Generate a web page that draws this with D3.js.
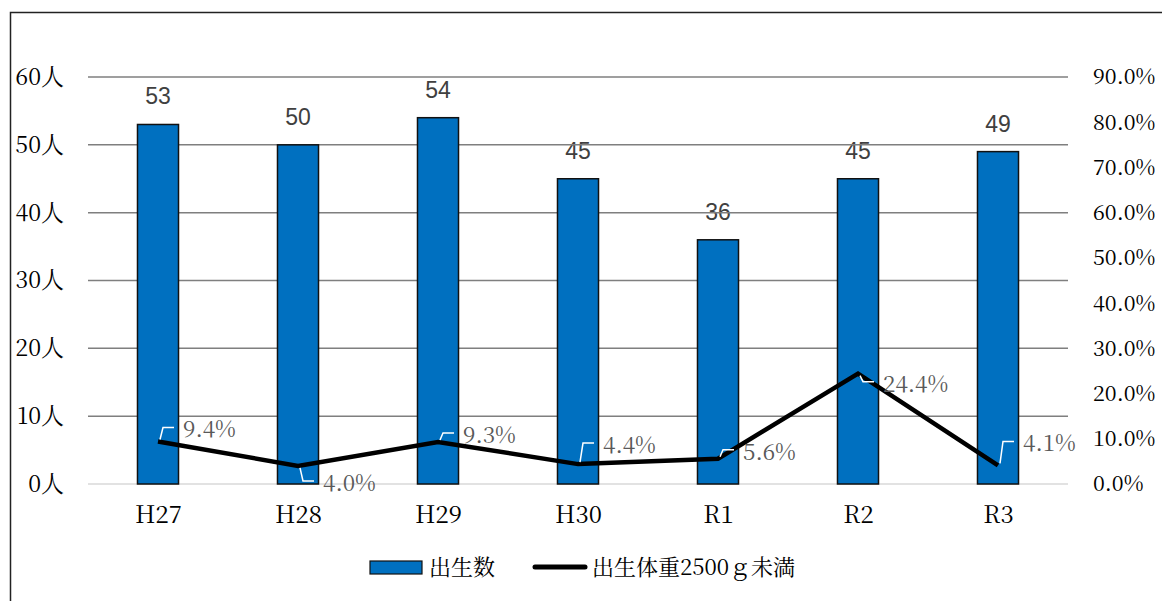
<!DOCTYPE html>
<html>
<head>
<meta charset="utf-8">
<script src="https://cdn.jsdelivr.net/npm/d3@7"></script>
<style>
  body { margin: 0; background: #fff; }
  svg { display: block; }
</style>
</head>
<body>
<script>
var width = 1162,
    height = 601;

// data
var categories = ['H27', 'H28', 'H29', 'H30', 'R1', 'R2', 'R3'];
var births = [53, 50, 54, 45, 36, 45, 49];
var lowWeightRate = [0.094, 0.040, 0.093, 0.044, 0.056, 0.244, 0.041];
var leftTicks = [0, 10, 20, 30, 40, 50, 60];
var rightTicks = [0, 0.1, 0.2, 0.3, 0.4, 0.5, 0.6, 0.7, 0.8, 0.9];
var barName = '出生数';
var lineName = '出生体重2500ｇ未満';

// label placement for line data labels (vertical offset, px)
var labelDy = [-12, 17, -7, -19, -7, 10, -22];

var serif = '"Noto Serif CJK JP","Liberation Serif",serif';
var sans = '"Liberation Sans",Arial,sans-serif';

var plot = {left: 88, right: 1068, top: 77, bottom: 484};

var svg = d3.select('body').append('svg')
    .attr('width', width)
    .attr('height', height);

// outer frame
svg.append('rect')
    .attr('x', 10.5).attr('y', 12.5)
    .attr('width', 1200).attr('height', 700)
    .attr('fill', '#fff')
    .attr('stroke', '#222')
    .attr('stroke-width', 1.5);

var x = d3.scalePoint().domain(categories).range([plot.left, plot.right]).padding(0.5);
var yL = d3.scaleLinear().domain([0, 60]).range([plot.bottom, plot.top]);
var yR = d3.scaleLinear().domain([0, 0.9]).range([plot.bottom, plot.top]);
var barW = x.step() * 0.293;

// bar value labels (under the grid, like the original)
svg.append('g').selectAll('text')
    .data(births)
    .enter().append('text')
    .attr('x', function(d, i){ return x(categories[i]); })
    .attr('y', function(d){ return yL(d) - 20; })
    .attr('text-anchor', 'middle')
    .style('font-family', sans)
    .style('font-size', '23px')
    .style('fill', '#404040')
    .text(function(d){ return d; });

// gridlines
svg.append('g').selectAll('line')
    .data(leftTicks)
    .enter().append('line')
    .attr('x1', plot.left).attr('x2', plot.right)
    .attr('y1', function(d){ return yL(d); })
    .attr('y2', function(d){ return yL(d); })
    .attr('stroke', function(d){ return d === 0 ? '#d9d9d9' : '#7f7f7f'; })
    .attr('stroke-width', 1.5);

// left axis
var axL = svg.append('g')
    .attr('transform', 'translate(' + (plot.left - 24) + ',0)')
    .call(d3.axisLeft(yL).tickValues(leftTicks).tickSize(0).tickPadding(0)
        .tickFormat(function(d){ return d + '人'; }));
axL.select('.domain').remove();
axL.selectAll('text')
    .style('font-family', serif)
    .style('font-size', '23px')
    .style('fill', '#000');

// right axis
var axR = svg.append('g')
    .attr('transform', 'translate(' + (plot.right + 25) + ',0)')
    .call(d3.axisRight(yR).tickValues(rightTicks).tickSize(0).tickPadding(0)
        .tickFormat(d3.format('.1%')));
axR.select('.domain').remove();
axR.selectAll('text')
    .style('font-family', serif)
    .style('font-size', '21.5px')
    .style('fill', '#000');

// x axis
var axX = svg.append('g')
    .attr('transform', 'translate(0,' + (plot.bottom + 22) + ')')
    .call(d3.axisBottom(x).tickSize(0).tickPadding(0));
axX.select('.domain').remove();
axX.selectAll('text')
    .style('font-family', serif)
    .style('font-size', '24px')
    .style('fill', '#000');

// bars
svg.append('g').selectAll('rect')
    .data(births)
    .enter().append('rect')
    .attr('x', function(d, i){ return x(categories[i]) - barW / 2; })
    .attr('y', function(d){ return yL(d); })
    .attr('width', barW)
    .attr('height', function(d){ return yL(0) - yL(d); })
    .attr('fill', '#0070c0')
    .attr('stroke', '#111')
    .attr('stroke-width', 1.5);

// line
var line = d3.line()
    .x(function(d, i){ return x(categories[i]); })
    .y(function(d){ return yR(d); });

svg.append('path')
    .datum(lowWeightRate)
    .attr('d', line)
    .attr('fill', 'none')
    .attr('stroke', '#000')
    .attr('stroke-width', 4.5);

// leader lines + data labels
var dx = 25;
var lbl = svg.append('g');
lowWeightRate.forEach(function(d, i){
    var px = x(categories[i]), py = yR(d), dy = labelDy[i];
    var ly = py + dy - 2;
    lbl.append('path')
        .attr('d', 'M' + (px + 2) + ',' + (py + (dy < 0 ? -2 : 2)) +
                   'L' + (px + 5) + ',' + ly +
                   'L' + (px + dx - 9) + ',' + ly)
        .attr('fill', 'none')
        .attr('stroke', '#fff')
        .attr('stroke-width', 1.5);
    lbl.append('text')
        .attr('x', px + dx)
        .attr('y', py + dy)
        .attr('dy', '0.35em')
        .style('font-family', serif)
        .style('font-size', '22.5px')
        .style('fill', '#595959')
        .text(d3.format('.1%')(d));
});

// legend
var leg = svg.append('g');
leg.append('rect')
    .attr('x', 370).attr('y', 561)
    .attr('width', 52).attr('height', 13)
    .attr('fill', '#0070c0')
    .attr('stroke', '#111')
    .attr('stroke-width', 1.2);
leg.append('text')
    .attr('x', 429).attr('y', 567).attr('dy', '0.35em')
    .style('font-family', serif).style('font-size', '22px')
    .text(barName);
leg.append('line')
    .attr('x1', 535).attr('x2', 585)
    .attr('y1', 567).attr('y2', 567)
    .attr('stroke', '#000')
    .attr('stroke-width', 5)
    .attr('stroke-linecap', 'round');
leg.append('text')
    .attr('x', 592).attr('y', 567).attr('dy', '0.35em')
    .style('font-family', serif).style('font-size', '22px')
    .text(lineName);
</script>
</body>
</html>
